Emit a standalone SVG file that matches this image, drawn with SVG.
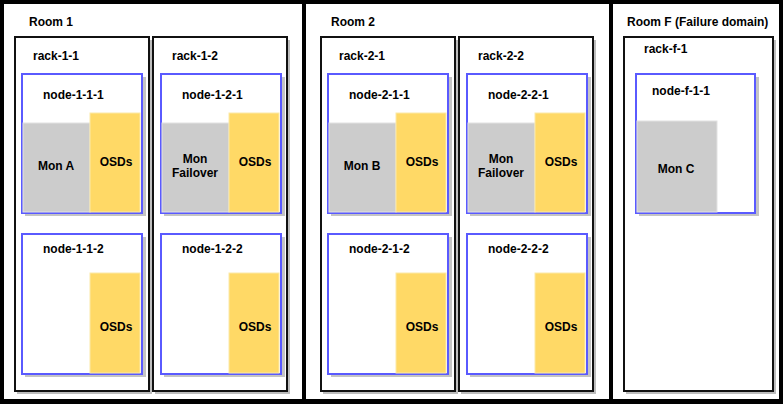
<svg xmlns="http://www.w3.org/2000/svg" width="783" height="404" viewBox="0 0 783 404">
<style>
text{font-family:"Liberation Sans",Arial,sans-serif;font-size:12px;font-weight:bold;fill:#000}
.room{fill:#fff;stroke:none}
.rack{fill:#fff;stroke:#111;stroke-width:2}
.rsh{fill:#bdbdbd;stroke:none}
.node{fill:#fff;stroke:#5a5aff;stroke-width:2}
.nsh{fill:#c4c4c4;stroke:none}
.mon{fill:#cccccc;stroke:#e2e2e2;stroke-width:1}
.osd{fill:#ffd966;stroke:#fbe9a8;stroke-width:1}
.c{text-anchor:middle}
</style>
<rect x="0" y="0" width="783" height="404" fill="#000"/>
<g id="room-1">
<rect class="room" x="4" y="4" width="298" height="395"/>
<text x="29" y="26">Room 1</text>
</g>
<g id="room-2">
<rect class="room" x="306" y="4" width="303" height="395"/>
<text x="331" y="26">Room 2</text>
</g>
<g id="room-f">
<rect class="room" x="613" y="4" width="166" height="395"/>
<text x="627" y="26">Room F (Failure domain)</text>
</g>

<g id="rack-1-1">
<rect class="rsh" x="17" y="40" width="135" height="354"/>
<rect class="rack" x="15" y="37" width="134" height="354"/>
<text x="33" y="60">rack-1-1</text>
</g>
<g id="rack-1-2">
<rect class="rsh" x="155" y="40" width="135" height="354"/>
<rect class="rack" x="153" y="37" width="134" height="354"/>
<text x="172" y="60">rack-1-2</text>
</g>
<g id="rack-2-1">
<rect class="rsh" x="323" y="40" width="135" height="354"/>
<rect class="rack" x="321" y="37" width="134" height="354"/>
<text x="339" y="60">rack-2-1</text>
</g>
<g id="rack-2-2">
<rect class="rsh" x="461" y="40" width="135" height="354"/>
<rect class="rack" x="459" y="37" width="134" height="354"/>
<text x="478" y="60">rack-2-2</text>
</g>
<g id="rack-f-1">
<rect class="rsh" x="626" y="40" width="150" height="354"/>
<rect class="rack" x="624" y="37" width="149" height="354"/>
<text x="644" y="53">rack-f-1</text>
</g>

<g id="node-1-1-1">
<rect class="nsh" x="25" y="77" width="121" height="139"/>
<rect class="node" x="22" y="74" width="120" height="139"/>
<rect class="mon" x="23" y="123" width="67" height="89"/>
<rect class="osd" x="90" y="113" width="50" height="99"/>
<text x="43" y="99">node-1-1-1</text>
<text class="c" x="56" y="170">Mon A</text>
<text class="c" x="116" y="166">OSDs</text>
</g>
<g id="node-1-1-2">
<rect class="nsh" x="25" y="237" width="121" height="140"/>
<rect class="node" x="22" y="234" width="120" height="140"/>
<rect class="osd" x="90" y="273" width="50" height="100"/>
<text x="43" y="253">node-1-1-2</text>
<text class="c" x="116" y="331">OSDs</text>
</g>
<g id="node-1-2-1">
<rect class="nsh" x="164" y="77" width="121" height="139"/>
<rect class="node" x="161" y="74" width="120" height="139"/>
<rect class="mon" x="162" y="123" width="67" height="89"/>
<rect class="osd" x="229" y="113" width="50" height="99"/>
<text x="182" y="99">node-1-2-1</text>
<text class="c" x="195" y="163">Mon</text>
<text class="c" x="195" y="177">Failover</text>
<text class="c" x="255" y="166">OSDs</text>
</g>
<g id="node-1-2-2">
<rect class="nsh" x="164" y="237" width="121" height="140"/>
<rect class="node" x="161" y="234" width="120" height="140"/>
<rect class="osd" x="229" y="273" width="50" height="100"/>
<text x="182" y="253">node-1-2-2</text>
<text class="c" x="255" y="331">OSDs</text>
</g>

<g id="node-2-1-1">
<rect class="nsh" x="331" y="77" width="121" height="139"/>
<rect class="node" x="328" y="74" width="120" height="139"/>
<rect class="mon" x="329" y="123" width="67" height="89"/>
<rect class="osd" x="396" y="113" width="50" height="99"/>
<text x="349" y="99">node-2-1-1</text>
<text class="c" x="362" y="170">Mon B</text>
<text class="c" x="422" y="166">OSDs</text>
</g>
<g id="node-2-1-2">
<rect class="nsh" x="331" y="237" width="121" height="140"/>
<rect class="node" x="328" y="234" width="120" height="140"/>
<rect class="osd" x="396" y="273" width="50" height="100"/>
<text x="349" y="253">node-2-1-2</text>
<text class="c" x="422" y="331">OSDs</text>
</g>
<g id="node-2-2-1">
<rect class="nsh" x="470" y="77" width="121" height="139"/>
<rect class="node" x="467" y="74" width="120" height="139"/>
<rect class="mon" x="468" y="123" width="67" height="89"/>
<rect class="osd" x="535" y="113" width="50" height="99"/>
<text x="488" y="99">node-2-2-1</text>
<text class="c" x="501" y="163">Mon</text>
<text class="c" x="501" y="177">Failover</text>
<text class="c" x="561" y="166">OSDs</text>
</g>
<g id="node-2-2-2">
<rect class="nsh" x="470" y="237" width="121" height="140"/>
<rect class="node" x="467" y="234" width="120" height="140"/>
<rect class="osd" x="535" y="273" width="50" height="100"/>
<text x="488" y="253">node-2-2-2</text>
<text class="c" x="561" y="331">OSDs</text>
</g>

<g id="node-f-1-1">
<rect class="nsh" x="639" y="77" width="120" height="139"/>
<rect class="node" x="636" y="74" width="119" height="139"/>
<rect class="mon" x="637" y="121" width="80" height="91"/>
<text x="652" y="95">node-f-1-1</text>
<text class="c" x="676" y="173">Mon C</text>
</g>
<g id="connectors"></g>
</svg>
